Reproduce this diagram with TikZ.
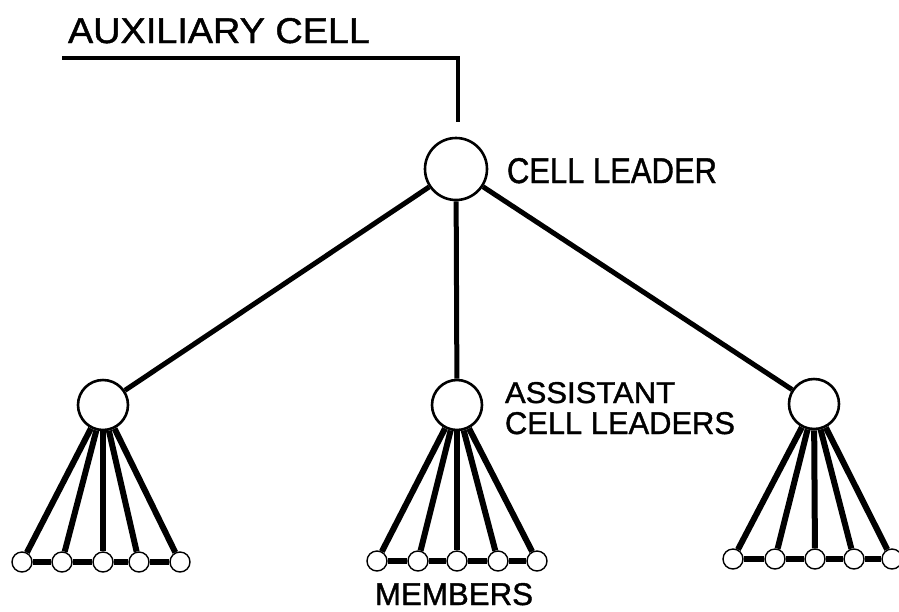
\documentclass[tikz,border=0pt]{standalone}
\usepackage{fontspec}
\setmainfont[FakeBold=1.2]{Liberation Sans}
\usepackage{graphicx}
\begin{document}
\begin{tikzpicture}[x=1pt,y=-1pt,
  lead/.style={circle,draw,line width=2.6pt,fill=white,minimum size=62pt,inner sep=0pt},
  asst/.style={circle,draw,line width=2.6pt,fill=white,minimum size=50pt,inner sep=0pt},
  memb/.style={circle,draw,line width=1.4pt,fill=white,minimum size=20pt,inner sep=0pt},
  tie/.style={line width=5pt},
  fan/.style={line width=6pt},
  bar/.style={line width=6.5pt},
  lbl/.style={anchor=base west,inner sep=0pt,outer sep=0pt}]
\useasboundingbox (0,0) rectangle (899,611);
% texts
\node[lbl] (title) at (68,43) {\resizebox{302pt}{25pt}{AUXILIARY CELL}};
\node[lbl] (tl) at (507,183) {\resizebox{210pt}{25pt}{CELL LEADER}};
\node[lbl] (ta1) at (505,403) {\resizebox{170pt}{21pt}{ASSISTANT}};
\node[lbl] (ta2) at (505,434) {\resizebox{230pt}{22pt}{CELL LEADERS}};
\node[lbl] (tm) at (375,605) {\resizebox{158pt}{22pt}{MEMBERS}};
% leader and link to auxiliary cell
\node[lead] (L) at (456,169) {};
\coordinate (u0) at (62,58);
\coordinate (u1) at (458,58);
\coordinate (u2) at (458,122);
\draw[line width=4pt] (u0) -- (u1) -- (u2);
% assistants
\node[asst] (A1) at (103,405) {};
\node[asst] (A2) at (457,405) {};
\node[asst] (A3) at (814,404) {};
\draw[tie] (L) -- (A1);
\draw[tie] (L) -- (A2);
\draw[tie] (L) -- (A3);
% members
\foreach \i/\x in {1/22,2/62,3/103,4/139,5/180}{\node[memb] (m1\i) at (\x,562) {};}
\foreach \i/\x in {1/377,2/418,3/457,4/498,5/537}{\node[memb] (m2\i) at (\x,561) {};}
\foreach \i/\x in {1/733,2/775,3/815,4/854,5/892}{\node[memb] (m3\i) at (\x,559) {};}
\foreach \g in {1,2,3}{
  \foreach \i in {1,...,5}{\draw[fan] (A\g) -- (m\g\i);}
  \draw[bar] (m\g1) -- (m\g2);
  \draw[bar] (m\g2) -- (m\g3);
  \draw[bar] (m\g3) -- (m\g4);
  \draw[bar] (m\g4) -- (m\g5);
}
\end{tikzpicture}
\end{document}
